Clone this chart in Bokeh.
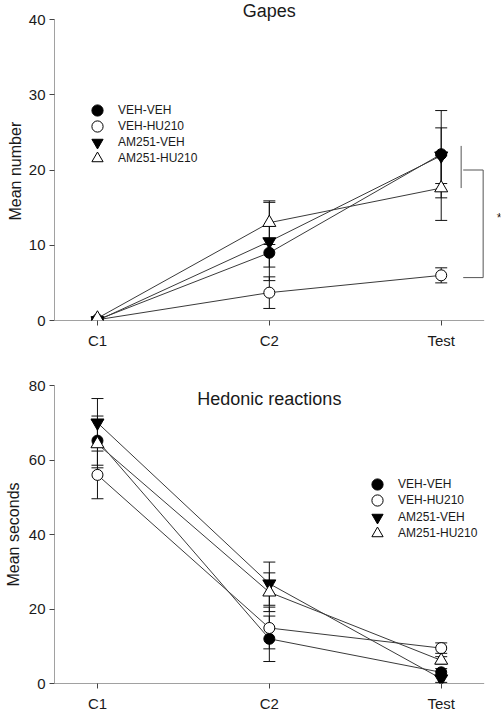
from bokeh.plotting import figure
from bokeh.models import (Range1d, ColumnDataSource, Whisker, TeeHead, Legend,
                          LegendItem, Label, FixedTicker, Title)
from bokeh.layouts import column
from bokeh.embed import file_html
from bokeh.resources import INLINE

# ---------------- data ----------------
categories = ["C1", "C2", "Test"]
x_pos = [1, 2, 3]
groups = ["VEH-VEH", "VEH-HU210", "AM251-VEH", "AM251-HU210"]

gapes_veh_veh = [0.1, 9.0, 22.1]
gapes_veh_veh_err = [0.1, 1.9, 5.8]
gapes_veh_hu210 = [0.1, 3.7, 6.0]
gapes_veh_hu210_err = [0.1, 2.1, 1.0]
gapes_am251_veh = [0.0, 10.5, 21.9]
gapes_am251_veh_err = [0.1, 5.2, 3.7]
gapes_am251_hu210 = [0.3, 13.0, 17.6]
gapes_am251_hu210_err = [0.2, 2.9, 4.3]

hedonic_veh_veh = [65.2, 12.0, 3.0]
hedonic_veh_veh_err = [6.6, 6.1, 1.0]
hedonic_veh_hu210 = [56.0, 14.9, 9.5]
hedonic_veh_hu210_err = [6.4, 5.6, 1.4]
hedonic_am251_veh = [70.0, 26.8, 1.3]
hedonic_am251_veh_err = [6.5, 5.8, 1.0]
hedonic_am251_hu210 = [64.3, 24.5, 6.2]
hedonic_am251_hu210_err = [6.4, 5.2, 1.0]

gapes_ticks = [0, 10, 20, 30, 40]
hedonic_ticks = [0, 20, 40, 60, 80]

# significance bracket (Test session): group band top/bottom, HU210 level
bracket_band = [17.6, 23.2]
bracket_levels = [20.0, 5.7]

FONT = "Liberation Sans"
LINE = "#3a3a3a"
AXIS = "#444444"
X_START, X_AXIS_END, X_END = 0.75, 3.25, 3.345

markers = ["circle", "circle", "inverted_triangle", "triangle"]
fills = ["black", "white", "black", "white"]
sizes = [11, 11, 13, 13]


def make_panel(means, errs, y_axis_end, y_view_end, ticks, height, b_top, b_bottom):
    p = figure(width=502, height=height, output_backend="svg", toolbar_location=None,
               x_range=Range1d(X_START, X_END), y_range=Range1d(0, y_view_end),
               min_border_left=54, min_border_right=2,
               min_border_top=b_top, min_border_bottom=b_bottom)
    p.outline_line_color = None
    p.xgrid.visible = False
    p.ygrid.visible = False
    p.background_fill_color = "white"

    for ax in (p.xaxis[0], p.yaxis[0]):
        ax.axis_line_color = None
        ax.major_tick_line_color = AXIS
        ax.major_tick_out = 5
        ax.major_tick_in = 0
        ax.minor_tick_line_color = None
        ax.major_label_text_font = FONT
        ax.major_label_text_font_size = "15px"
        ax.major_label_text_color = "#1a1a1a"
        ax.axis_label_text_font = FONT
        ax.axis_label_text_font_style = "normal"
        ax.axis_label_text_font_size = "16px"
        ax.axis_label_text_color = "#1a1a1a"
    p.xaxis.ticker = FixedTicker(ticks=x_pos)
    p.xaxis.major_label_overrides = {x: c for x, c in zip(x_pos, categories)}
    p.xaxis.major_label_standoff = 6
    p.yaxis.ticker = FixedTicker(ticks=ticks)
    p.yaxis.major_label_standoff = 4

    # axis lines (stop at the ends of the value / category axes)
    p.segment(x0=[X_START], y0=[0], x1=[X_AXIS_END], y1=[0], line_color=AXIS, line_width=1)
    p.segment(x0=[X_START], y0=[0], x1=[X_START], y1=[y_axis_end], line_color=AXIS,
              line_width=1)

    scat = []
    for m in means:
        p.line(x_pos, m, line_color=LINE, line_width=1)
    for m, e in zip(means, errs):
        src = ColumnDataSource(dict(x=x_pos, up=[a + b for a, b in zip(m, e)],
                                    lo=[a - b for a, b in zip(m, e)]))
        w = Whisker(source=src, base="x", upper="up", lower="lo",
                    line_color="#111111", line_width=1,
                    upper_head=TeeHead(size=12, line_color="#111111", line_width=1),
                    lower_head=TeeHead(size=12, line_color="#111111", line_width=1))
        p.add_layout(w)
    for m, mk, fc, sz in zip(means, markers, fills, sizes):
        r = p.scatter(x_pos, m, marker=mk, size=sz, fill_color=fc,
                      line_color="black", line_width=1)
        scat.append(r)
    return p, scat


def add_legend(p, renderers, left, first_center, step):
    # one single-row legend per group so that rows can be packed tightly
    for i, (g, r) in enumerate(zip(groups, renderers)):
        lg = Legend(items=[LegendItem(label=g, renderers=[r])],
                    location=(left, first_center - i * step - 14))
        lg.border_line_alpha = 0
        lg.background_fill_alpha = 0
        lg.padding = 0
        lg.margin = 0
        lg.spacing = 0
        lg.glyph_width = 28
        lg.glyph_height = 28
        lg.label_height = 14
        lg.label_standoff = 7
        lg.label_text_font = FONT
        lg.label_text_font_size = "12px"
        lg.label_text_color = "#1a1a1a"
        p.add_layout(lg)


# ---------------- top panel: Gapes ----------------
# view extends 19 px above the 40 tick so that the panel title sits inside the frame
p1, s1 = make_panel(
    [gapes_veh_veh, gapes_veh_hu210, gapes_am251_veh, gapes_am251_hu210],
    [gapes_veh_veh_err, gapes_veh_hu210_err, gapes_am251_veh_err, gapes_am251_hu210_err],
    40, 40 + 19 / 7.525, gapes_ticks, 355, 0, 35)
p1.add_layout(Title(text="Mean number", align="left", offset=100, standoff=4,
                    text_font=FONT, text_font_size="16px", text_font_style="normal",
                    text_color="#1a1a1a"), "left")
p1.add_layout(Label(x=2, y=40 + 9 / 7.525, text="Gapes", text_align="center",
                    text_baseline="middle", text_font=FONT, text_font_size="18px",
                    text_color="#1a1a1a"))
add_legend(p1, s1, 29, 210.5, 16.3)

# significance bracket
p1.segment(x0=[3.116], y0=[bracket_band[0]], x1=[3.116], y1=[bracket_band[1]],
           line_color="#555555", line_width=1)
p1.line([3.128, 3.244, 3.244, 3.128],
        [bracket_levels[0], bracket_levels[0], bracket_levels[1], bracket_levels[1]],
        line_color="#555555", line_width=1)
p1.add_layout(Label(x=X_AXIS_END, y=13.7, x_offset=15,
                    text="*", text_align="center", text_baseline="middle", text_font=FONT,
                    text_font_size="13px", text_color="#1a1a1a"))

# ---------------- bottom panel: Hedonic reactions ----------------
p2, s2 = make_panel(
    [hedonic_veh_veh, hedonic_veh_hu210, hedonic_am251_veh, hedonic_am251_hu210],
    [hedonic_veh_veh_err, hedonic_veh_hu210_err, hedonic_am251_veh_err, hedonic_am251_hu210_err],
    80, 80, hedonic_ticks, 359, 30, 28)
p2.yaxis.axis_label = "Mean seconds"
p2.yaxis.axis_label_standoff = 4
add_legend(p2, s2, 309, 199, 16.3)
p2.add_layout(Label(x=2, y=76.3, text="Hedonic reactions", text_align="center",
                    text_baseline="middle", text_font=FONT, text_font_size="18px",
                    text_color="#1a1a1a"))

layout = column(p1, p2, spacing=0)
open("out.html", "w").write(file_html(layout, INLINE))
